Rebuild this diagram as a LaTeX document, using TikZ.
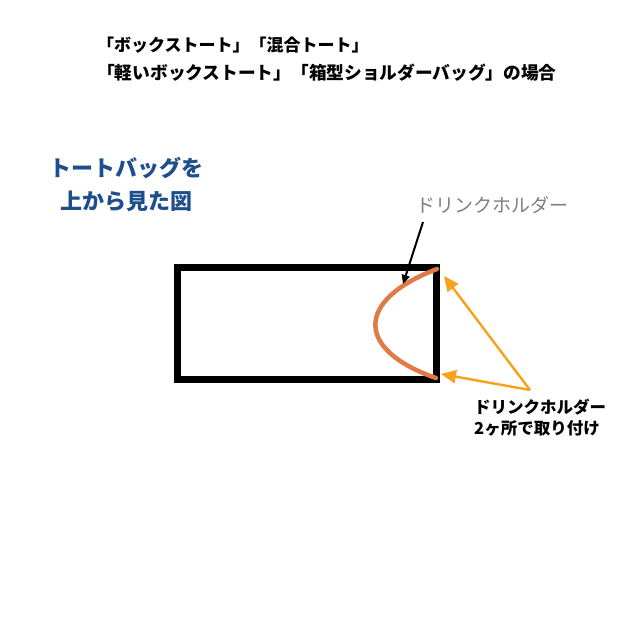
\documentclass[tikz,border=0pt]{standalone}
\usepackage{fontspec}
\newfontfamily\jp{Noto Sans CJK JP}
\usetikzlibrary{arrows.meta}
\definecolor{titleblue}{HTML}{1F4E8C}
\definecolor{holder}{HTML}{E07B45}
\definecolor{arrorange}{HTML}{F7A21B}
\definecolor{labelgray}{HTML}{808080}
\tikzset{
  txt/.style={inner sep=0pt, font=\jp},
  bagbox/.style={draw=black, line width=7pt, fill=white},
  holderline/.style={draw=holder, line width=4.5pt, line cap=round},
  blackarrow/.style={draw=black, line width=2pt, -{Triangle[length=9pt,width=8pt]}},
  orangearrow/.style={draw=arrorange, line width=2.4pt, -{Triangle[length=15pt,width=13pt]}},
}
\begin{document}
\begin{tikzpicture}[x=1pt,y=-1pt]
\useasboundingbox (0,0) rectangle (640,640);
\fill[white] (0,0) rectangle (640,640);
% title
\node[txt, anchor=west, font=\jp\bfseries\fontsize{17}{18}\selectfont] (t1) at (97,45) {「ボックストート」「混合トート」};
\node[txt, anchor=west, font=\jp\bfseries\fontsize{17.7}{19}\selectfont] (t2) at (97,73) {「軽いボックストート」「箱型ショルダーバッグ」の場合};
% blue caption
\node[txt, text=titleblue, font=\jp\bfseries\fontsize{22}{33}\selectfont, align=center] (cap) at (126,184) {トートバッグを\\上から見た図};
% bag
\node[bagbox, minimum width=259pt, minimum height=112pt, inner sep=0pt] (bag) at (306.5,323) {};
\coordinate (h1) at (437,269);
\coordinate (h2) at (436,378);
\draw[holderline] (h1) .. controls (355,300) and (355,350) .. (h2);
% gray label
\node[txt, anchor=west, text=labelgray, font=\jp\fontsize{19}{22}\selectfont] (gl) at (416,205) {ドリンクホルダー};
\coordinate (gs) at (423,222);
\coordinate (gt) at (403,284);
\draw[blackarrow] (gs) -- (gt);
% bottom label
\node[txt, anchor=west, align=left, font=\jp\bfseries\fontsize{16.5}{21}\selectfont] (bl) at (474,418) {ドリンクホルダー\\2ヶ所で取り付け};
\coordinate (os) at (530,390);
\coordinate (ot1) at (444,276);
\coordinate (ot2) at (441,374);
\draw[orangearrow] (os) -- (ot1);
\draw[orangearrow] (os) -- (ot2);
\end{tikzpicture}
\end{document}
